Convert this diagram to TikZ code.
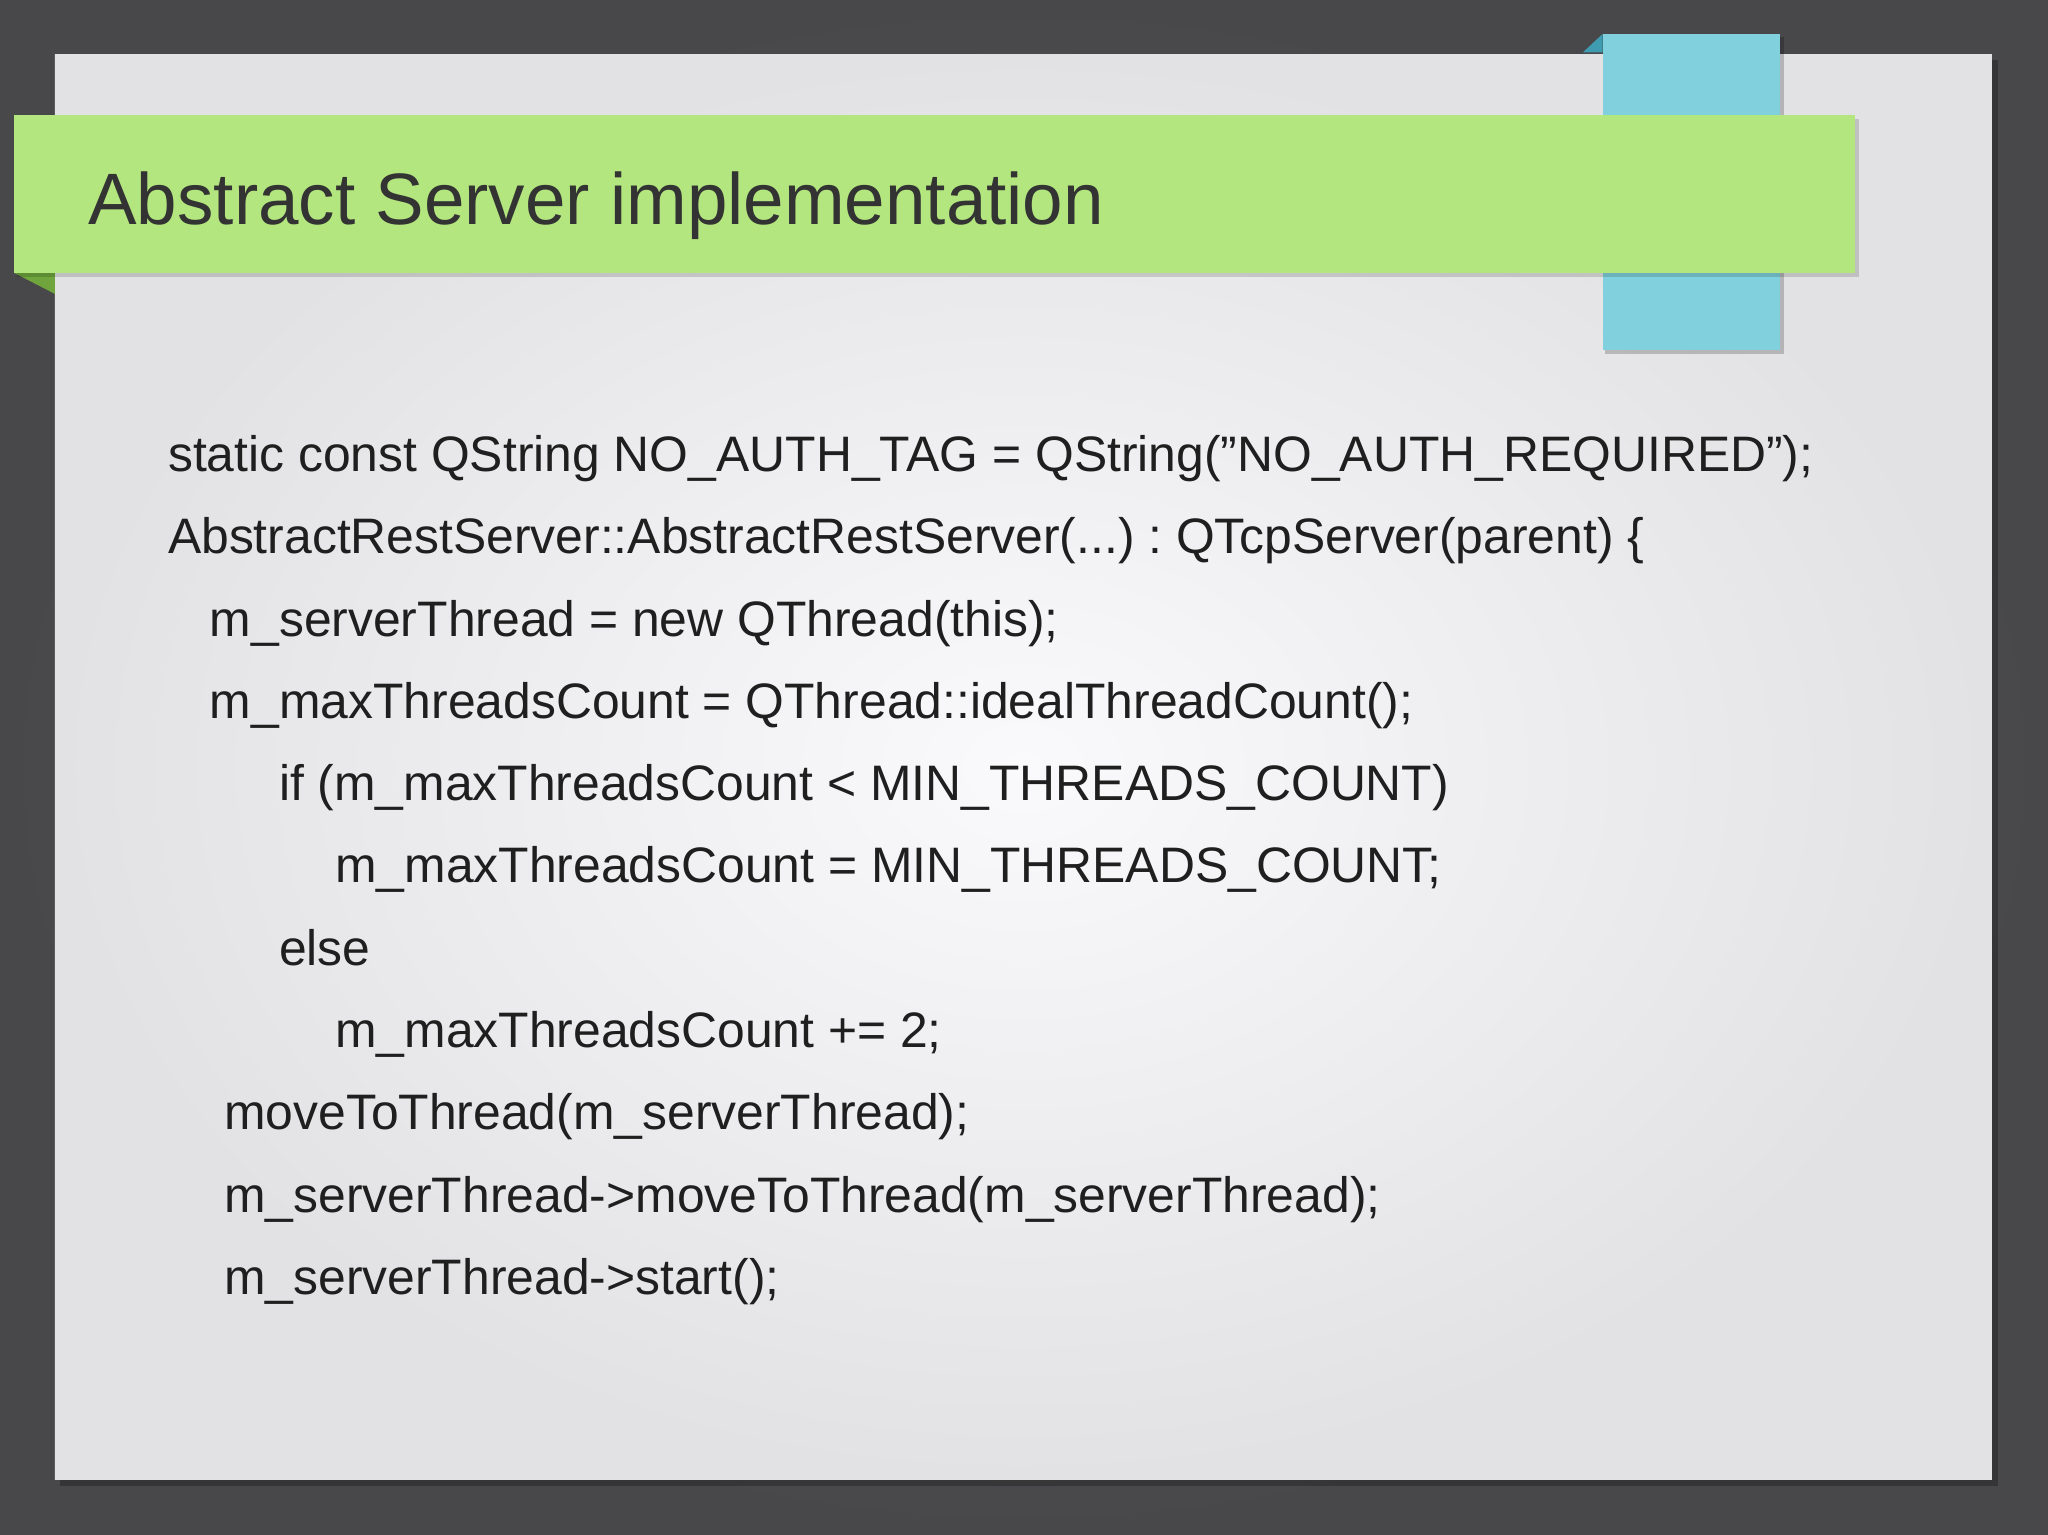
\documentclass[tikz,border=0pt]{standalone}
\usepackage{fontspec}
\setmainfont{Liberation Sans}
\frenchspacing
\begin{document}
\begin{tikzpicture}[x=0.01cm,y=-0.01cm,
  code/.style={anchor=base west,inner sep=0pt,text=black!88,font=\fontsize{10.85pt}{12pt}\selectfont}]
\definecolor{bgdark}{HTML}{48484A}
\definecolor{bgmid}{HTML}{5E5E60}
\definecolor{slideA}{HTML}{FAFAFC}
\definecolor{slideB}{HTML}{E2E2E4}
\definecolor{banner}{HTML}{B3E67E}
\definecolor{bannerdark}{HTML}{6FA53C}
\definecolor{tab}{HTML}{80D0DE}
\definecolor{tabdark}{HTML}{3E9BB0}
\useasboundingbox (0,0) rectangle (1568,1175);
\shade[inner color=bgmid,outer color=bgdark] (0,0) rectangle (1568,1175);
\fill[black,opacity=0.25] (46,46) rectangle (1530,1138);
\shade[inner color=slideA,outer color=slideB] (42,42) rectangle (1525,1133);
\fill[tabdark] (1212,40) -- (1227,26) -- (1227,40) -- cycle;
\fill[black,opacity=0.2] (1229,28) rectangle (1366,271);
\fill[tab] (1227,26) rectangle (1363,268);
\fill[bannerdark] (11,209) -- (42,209) -- (42,225) -- cycle;
\fill[black,opacity=0.15] (13,91) rectangle (1423,212);
\fill[banner] (11,88) rectangle (1420,209);
\node[anchor=base west,inner sep=0pt,text=black!80,font=\fontsize{15.85pt}{19pt}\selectfont] (title) at (67,172) {Abstract Server implementation};
\node[code] (l1) at (128,361) {static const QString NO\_AUTH\_TAG = QString(\symbol{34}NO\_AUTH\_REQUIRED\symbol{34});};
\node[code] (l2) at (128,424) {AbstractRestServer::AbstractRestServer(...) : QTcpServer(parent) \{};
\node[code] (l3) at (160,487) {m\_serverThread = new QThread(this);};
\node[code] (l4) at (160,550) {m\_maxThreadsCount = QThread::idealThreadCount();};
\node[code] (l5) at (213,613) {if (m\_maxThreadsCount < MIN\_THREADS\_COUNT)};
\node[code] (l6) at (256,676) {m\_maxThreadsCount = MIN\_THREADS\_COUNT;};
\node[code] (l7) at (213,739) {else};
\node[code] (l8) at (256,802) {m\_maxThreadsCount += 2;};
\node[code] (l9) at (171,865) {moveToThread(m\_serverThread);};
\node[code] (l10) at (171,928) {m\_serverThread->moveToThread(m\_serverThread);};
\node[code] (l11) at (171,991) {m\_serverThread->start();};
\end{tikzpicture}
\end{document}
